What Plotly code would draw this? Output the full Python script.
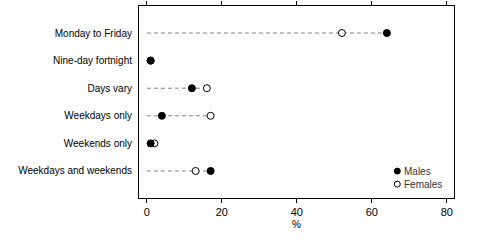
import plotly.graph_objects as go

categories = ["Monday to Friday", "Nine-day fortnight", "Days vary",
              "Weekdays only", "Weekends only", "Weekdays and weekends"]
males = [64, 1, 12, 4, 1, 17]
females = [52, 1, 16, 17, 2, 13]
x_ticks = [0, 20, 40, 60, 80]
legend_names = ["Males", "Females"]
legend_fill = ["black", "white"]

FONT = "Liberation Sans, Arial, sans-serif"
idx = list(range(len(categories)))

fig = go.Figure()
for i, c in enumerate(categories):
    fig.add_trace(go.Scatter(
        x=[0, max(males[i], females[i])], y=[i, i], mode="lines",
        line=dict(color="#808080", width=1, dash="4px,3px"),
        showlegend=False, hoverinfo="skip"))

fig.add_trace(go.Scatter(
    x=females, y=idx, mode="markers", name="Females", showlegend=False,
    marker=dict(symbol="circle", size=7, color="white",
                line=dict(color="black", width=1))))
fig.add_trace(go.Scatter(
    x=males, y=idx, mode="markers", name="Males", showlegend=False,
    marker=dict(symbol="circle", size=7, color="black",
                line=dict(color="black", width=1))))

# manual compact legend (bottom-right, inside plot)
leg_x = 0.82
leg_y = [0.14, 0.072]
for name, fill, yy in zip(legend_names, legend_fill, leg_y):
    fig.add_shape(type="circle", xref="paper", yref="paper",
                  xsizemode="pixel", ysizemode="pixel",
                  xanchor=leg_x, yanchor=yy, x0=-3, x1=3, y0=-3, y1=3,
                  fillcolor=fill, line=dict(color="black", width=1))
    fig.add_annotation(xref="paper", yref="paper", x=leg_x, y=yy,
                       xshift=5, text=name, showarrow=False,
                       xanchor="left", yanchor="middle",
                       font=dict(size=10, color="#333333"))

fig.update_layout(
    width=481, height=240,
    margin=dict(l=139, r=27, t=6, b=42, autoexpand=False),
    plot_bgcolor="white", paper_bgcolor="white",
    font=dict(family=FONT, size=10, color="black"),
    showlegend=False,
    xaxis=dict(range=[-2.1, 81.9], tickvals=x_ticks, showgrid=False,
               zeroline=False, showline=True, linecolor="black", linewidth=1,
               mirror="ticks", ticks="outside", ticklen=4, tickcolor="black",
               tickfont=dict(size=11, color="black"),
               title=dict(text="%", standoff=3,
                          font=dict(size=10, color="black"))),
    yaxis=dict(range=[5.98, -0.98], tickvals=idx, ticktext=categories,
               showgrid=False, zeroline=False, showline=True,
               linecolor="black", linewidth=1, mirror=True, ticks="",
               tickfont=dict(color="black"), ticklabelstandoff=4),
)

fig.write_html("out.html")
